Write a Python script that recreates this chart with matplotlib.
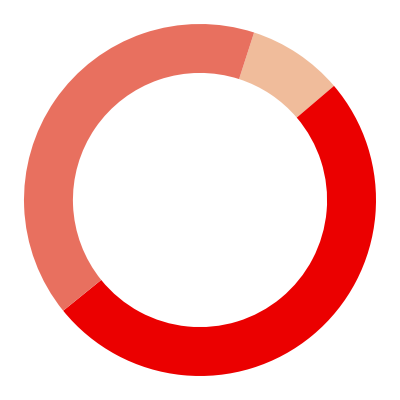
import matplotlib
matplotlib.use("Agg")
import matplotlib.pyplot as plt

# donut slices, clockwise from just right of 12 o'clock
labels = ["B", "C", "A"]
values = [8.8, 50.4, 40.8]
colors = ["#F0BC9B", "#EB0000", "#E8705F"]

fig = plt.figure(figsize=(4, 4), dpi=100)
ax = fig.add_axes([0, 0, 1, 1])
ax.pie(values, colors=colors, startangle=72.1, counterclock=False,
       radius=1.0, wedgeprops=dict(width=0.278, linewidth=0))
ax.set_xlim(-200 / 176, 200 / 176)
ax.set_ylim(-200 / 176, 200 / 176)
ax.set_aspect("equal")
ax.axis("off")
fig.savefig("out.png", dpi=100, facecolor="white")
